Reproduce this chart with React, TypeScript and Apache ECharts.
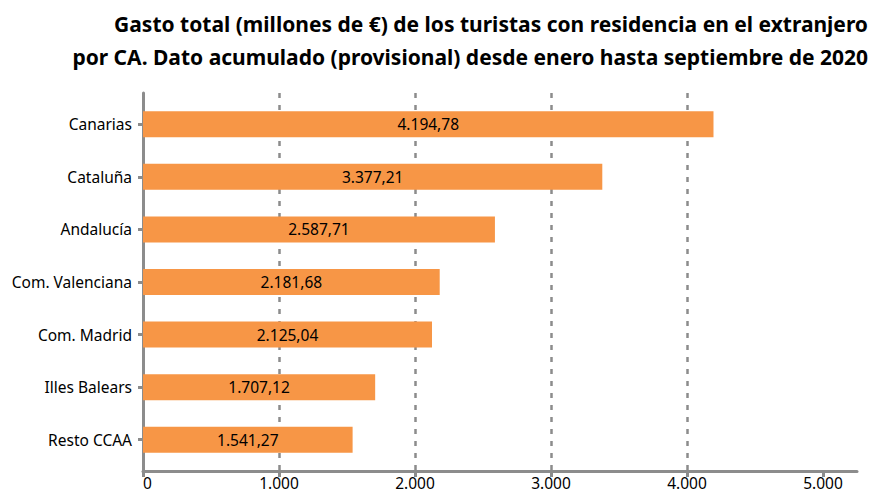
import React, { useEffect, useRef } from "react";
import * as echarts from "echarts";

const categories = ["Canarias", "Cataluña", "Andalucía", "Com. Valenciana", "Com. Madrid", "Illes Balears", "Resto CCAA"];
const values = [4194.78, 3377.21, 2587.71, 2181.68, 2125.04, 1707.12, 1541.27];
const xTicks = [0, 1000, 2000, 3000, 4000, 5000];
const titleLines = [
  "Gasto total (millones de €) de los turistas con residencia en el extranjero",
  "por CA. Dato acumulado (provisional) desde enero hasta septiembre de 2020",
];

function fmtEs(v: number, dec: number): string {
  const fixed = Math.abs(v).toFixed(dec);
  const [intPart, decPart] = fixed.split(".");
  const grouped = intPart.replace(/\B(?=(\d{3})+(?!\d))/g, ".");
  return (v < 0 ? "-" : "") + grouped + (decPart ? "," + decPart : "");
}

const FONT = "'Noto Sans', sans-serif";
const GRAY = "#8c8c8c";
const FS = 15.5;

export default function App() {
  const ref = useRef<HTMLDivElement>(null);
  useEffect(() => {
    document.body.style.margin = "0";
    const chart = echarts.init(ref.current!, null, { renderer: "svg" });
    chart.setOption({
      animation: false,
      textStyle: { fontFamily: FONT },
      graphic: [
        {
          type: "text",
          x: 868,
          y: 7,
          style: {
            text: titleLines.join("\n"),
            textAlign: "right",
            textVerticalAlign: "top",
            font: "bold 21px 'Noto Sans', sans-serif",
            lineHeight: 33,
            fill: "#000",
          },
        },
      ],
      grid: [
        { left: 143, right: 14, top: 98, bottom: 29, containLabel: false },
        { left: 143, right: 14, top: 93, bottom: 24, containLabel: false },
      ],
      xAxis: [
        {
          type: "value",
          gridIndex: 0,
          min: 0,
          max: 5250,
          interval: 1000,
          axisLine: { show: false },
          axisTick: { show: false },
          axisLabel: { show: false },
          splitLine: { show: false },
        },
        {
          type: "value",
          gridIndex: 1,
          min: 0,
          max: 5250,
          interval: 1000,
          axisLine: { show: true, lineStyle: { color: GRAY, width: 3 } },
          axisTick: { show: true, length: 6, customValues: xTicks, lineStyle: { color: GRAY, width: 3 } },
          axisLabel: {
            customValues: xTicks,
            color: "#000",
            fontSize: FS,
            lineHeight: 16,
            fontFamily: FONT,
            margin: 4,
            alignMinLabel: "left",
            formatter: (v: number) => fmtEs(v, 0),
          },
          splitLine: {
            show: true,
            showMinLine: false,
            showMaxLine: false,
            lineStyle: { color: GRAY, width: 2.5, type: [5, 7] },
          },
        },
      ],
      yAxis: [
        {
          type: "category",
          gridIndex: 0,
          data: categories,
          inverse: true,
          axisLine: { show: false },
          axisTick: { show: true, alignWithLabel: true, length: 5, lineStyle: { color: GRAY, width: 3 } },
          axisLabel: { color: "#000", fontSize: FS, fontFamily: FONT, margin: 11 },
          splitLine: { show: false },
        },
        {
          type: "value",
          gridIndex: 1,
          min: 0,
          max: 1,
          axisLine: { show: true, lineStyle: { color: GRAY, width: 3 } },
          axisTick: { show: false },
          axisLabel: { show: false },
          splitLine: { show: false },
        },
      ],
      series: [
        {
          type: "bar",
          xAxisIndex: 0,
          yAxisIndex: 0,
          data: values,
          barWidth: 26,
          itemStyle: { color: "#F79646" },
          z: 3,
          label: {
            show: true,
            position: "inside",
            color: "#000",
            fontSize: FS,
            fontFamily: FONT,
            formatter: (p: any) => fmtEs(p.value, 2),
          },
        },
      ],
    });
    return () => chart.dispose();
  }, []);
  return <div ref={ref} style={{ width: 871, height: 495 }} />;
}
